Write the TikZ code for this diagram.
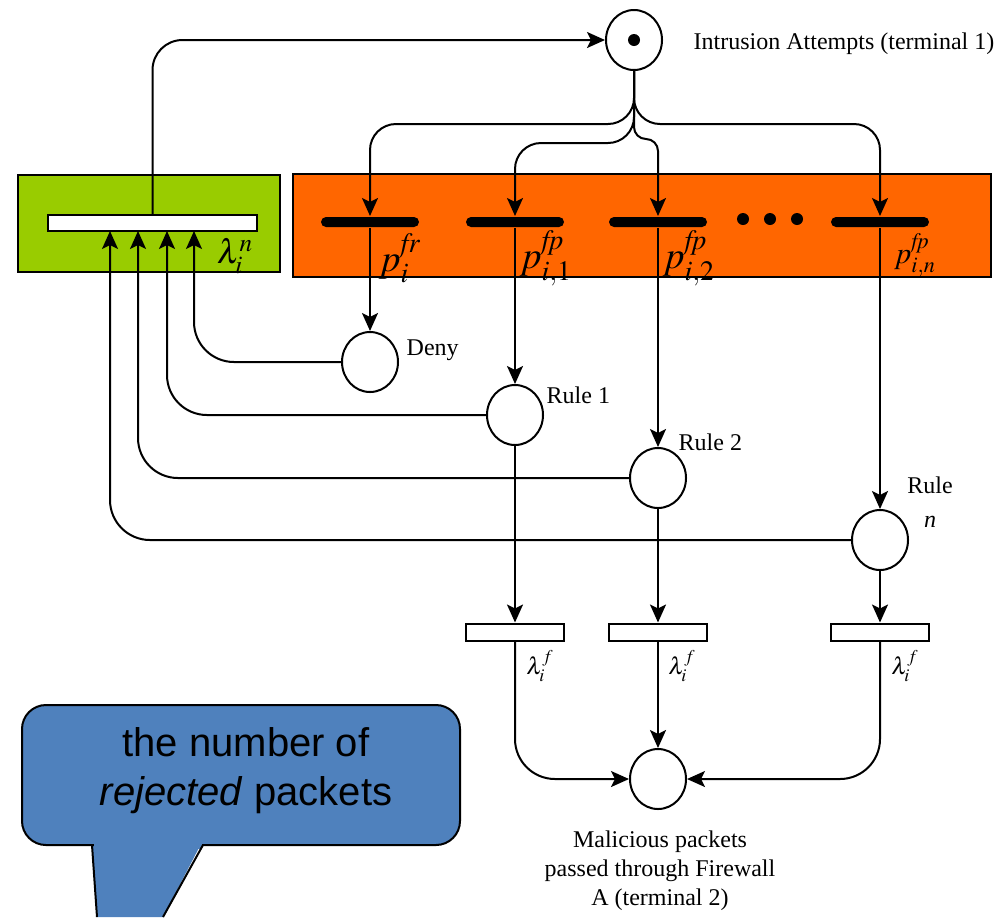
\documentclass[tikz,border=0pt]{standalone}
\usepackage{mathptmx}
\usepackage{fontspec}
\setmainfont{Liberation Serif}
\newfontfamily\calloutfont{Liberation Sans}
\usetikzlibrary{arrows.meta,shapes.geometric}
\definecolor{firewallgreen}{HTML}{99CC00}
\definecolor{firewallorange}{HTML}{FF6600}
\definecolor{calloutblue}{HTML}{4F81BD}

\begin{document}
\begin{tikzpicture}[x=0.5pt,y=-0.5pt,->,>={Stealth[length=9pt,width=8pt,inset=2pt]},line width=1pt,
  placenode/.style={ellipse,draw,fill=white,minimum width=28pt,minimum height=30pt,inner sep=0pt},
  trans/.style={rectangle,fill=black,rounded corners=2.5pt,minimum width=49pt,minimum height=5pt,inner sep=0pt},
  gate/.style={rectangle,draw,fill=white,minimum width=49pt,minimum height=8.5pt,inner sep=0pt},
  txt/.style={font=\fontsize{12}{14.5}\selectfont,align=center},
  biglbl/.style={font=\fontsize{19}{19}\selectfont,inner sep=1pt}]

 \useasboundingbox (0,0) rectangle (999,917);

 % firewall boxes
 \draw[-,fill=firewallgreen] (18,175) rectangle (280,272);
 \draw[-,fill=firewallorange] (293,174) rectangle (991,277);

 \node[placenode] (attempts) at (634,40) {};
 \fill[-] (attempts) circle (3pt);
 \node[txt,anchor=west] (attemptslbl) at (686,44) {Intrusion Attempts (terminal 1)};

 \node[gate,minimum width=104.5pt,minimum height=8pt] (reject) at (152.5,223) {};
 \node[font=\fontsize{17}{17}\selectfont,inner sep=1pt] (lamn) at (235,256) {$\lambda_i^n$};

 \node[trans] (tfr) at (370,222) {};
 \node[trans] (tfp1) at (515,222) {};
 \node[trans] (tfp2) at (658,222) {};
 \node[trans] (tfpn) at (880,222) {};
 \foreach \x in {743,770,797}
   \fill[-] (\x,219) circle (3pt);
 \node[biglbl] (lfr) at (400,258) {$p_i^{\mathit{fr}}$};
 \node[biglbl] (lfp1) at (546,258) {$p_{i,1}^{\mathit{fp}}$};
 \node[biglbl] (lfp2) at (689,258) {$p_{i,2}^{\mathit{fp}}$};
 \node[font=\fontsize{15}{15}\selectfont,inner sep=1pt] (lfpn) at (915,255) {$p_{i,n}^{\mathit{fp}}$};

 \node[placenode] (deny) at (370,362) {};
 \node[txt,anchor=west] (denylbl) at (399,350) {Deny};
 \node[placenode] (rule1) at (515,415) {};
 \node[txt,anchor=west] (rule1lbl) at (539,395) {Rule 1};
 \node[placenode] (rule2) at (658,478) {};
 \node[txt,anchor=west] (rule2lbl) at (671,442) {Rule 2};
 \node[placenode] (rulen) at (880,540) {};
 \node[txt,font=\fontsize{12}{17}\selectfont] (rulenlbl) at (930,502) {Rule\\\textit{n}};

 \node[gate] (gate1) at (515,632) {};
 \node[gate] (gate2) at (658,632) {};
 \node[gate] (gate3) at (880,632) {};
 \node[font=\fontsize{12}{12}\selectfont,inner sep=1pt] (lf1) at (540,666) {$\lambda_i^f$};
 \node[font=\fontsize{12}{12}\selectfont,inner sep=1pt] (lf2) at (682,666) {$\lambda_i^f$};
 \node[font=\fontsize{12}{12}\selectfont,inner sep=1pt] (lf3) at (905,666) {$\lambda_i^f$};

 \node[placenode] (passed) at (658,779) {};
 \node[txt,anchor=north] (passedlbl) at (660,823) {Malicious packets\\passed through Firewall\\A (terminal 2)};

 % callout
 \fill[-,calloutblue] (92,840) -- (97,917) -- (163,917) -- (203,840) -- cycle;
 \draw[-,fill=calloutblue,rounded corners=12pt] (22,705) rectangle (460,845);
 \fill[-,calloutblue] (93.5,842) rectangle (201.5,849);
 \draw[-] (92,845) -- (97,917);
 \draw[-] (203,845) -- (163,917);
 \node[font=\calloutfont\fontsize{20}{24.5}\selectfont,align=center] (note) at (246,771)
   {the number of\\\textit{rejected} packets};

 % arcs from the attempts place
 \draw[rounded corners=13pt] (attempts.south) |- (370,124) -- (tfr.north);
 \draw[rounded corners=13pt] (attempts.south) |- (515,143) -- (tfp1.north);
 \draw[rounded corners=6pt] (attempts.south) -- (634,139) -| (tfp2.north);
 \draw[rounded corners=13pt] (attempts.south) |- (880,124) -- (tfpn.north);

 \draw (tfr.south) -- (deny.north);
 \draw (tfp1.south) -- (rule1.north);
 \draw (tfp2.south) -- (rule2.north);
 \draw (tfpn.south) -- (rulen.north);

 \draw (rule1.south) -- (gate1.north);
 \draw (rule2.south) -- (gate2.north);
 \draw (rulen.south) -- (gate3.north);
 \draw[rounded corners=20pt] (gate1.south) |- (passed.west);
 \draw (gate2.south) -- (passed.north);
 \draw[rounded corners=20pt] (gate3.south) |- (passed.east);

 % rejected packets back to the counter
 \coordinate (in1) at (194,231);
 \coordinate (in2) at (167,231);
 \coordinate (in3) at (138,231);
 \coordinate (in4) at (110,231);
 \draw[rounded corners=20pt] (deny.west) -| (in1);
 \draw[rounded corners=20pt] (rule1.west) -| (in2);
 \draw[rounded corners=20pt] (rule2.west) -| (in3);
 \draw[rounded corners=20pt] (rulen.west) -| (in4);
 \draw[rounded corners=15pt] (reject.north) |- (attempts.west);

\end{tikzpicture}
\end{document}
